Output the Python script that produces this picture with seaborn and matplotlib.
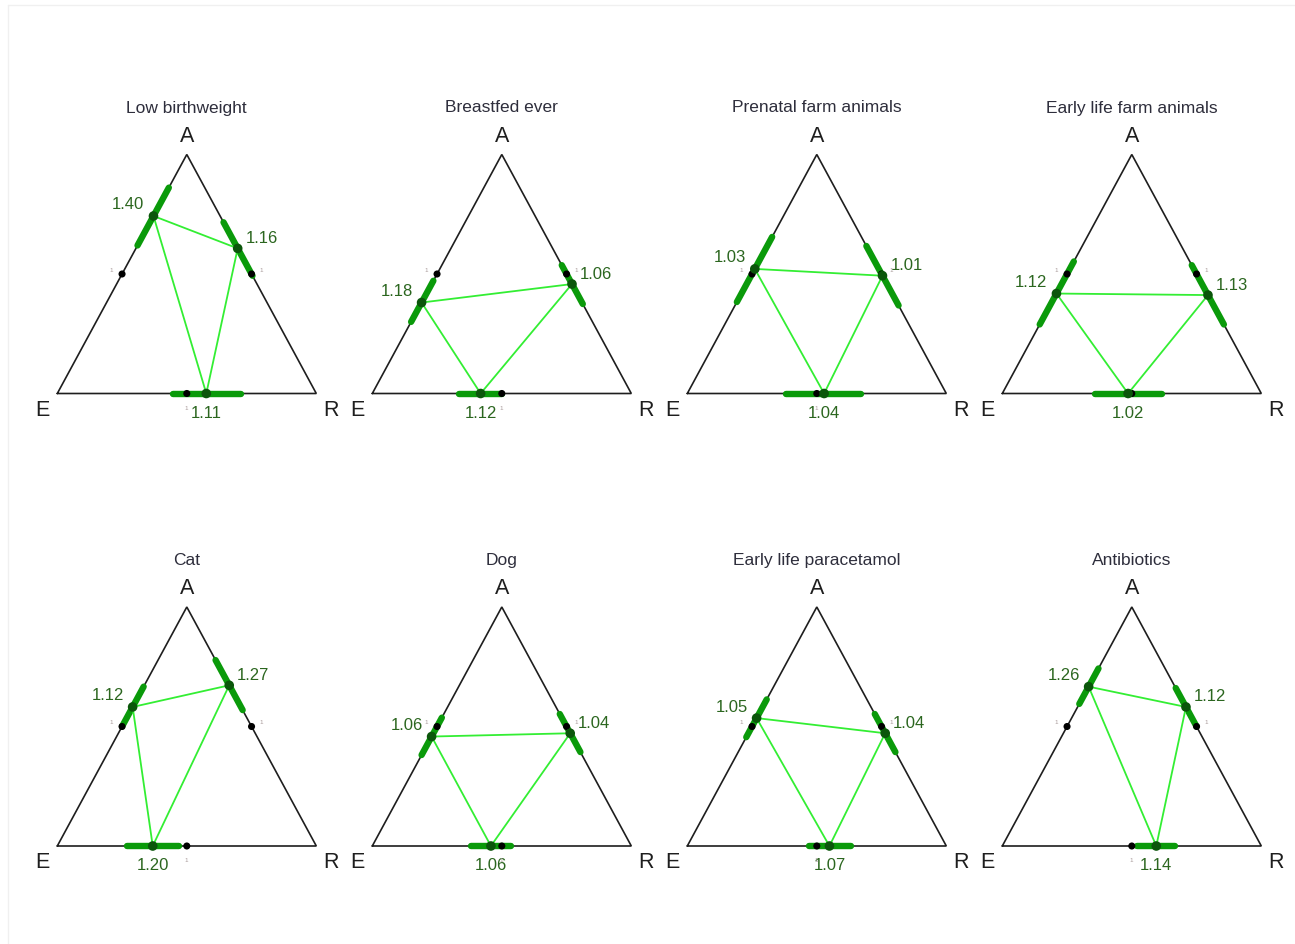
import numpy as np
import matplotlib
matplotlib.use("Agg")
import matplotlib.pyplot as plt
from matplotlib.lines import Line2D
import seaborn as sns

# ---- data -------------------------------------------------------------
titles = ["Low birthweight", "Breastfed ever", "Prenatal farm animals",
          "Early life farm animals", "Cat", "Dog",
          "Early life paracetamol", "Antibiotics"]

# Left edge (E - A): ratio estimate, vertex it leans towards, 95% CI
ea_est = [1.40, 1.18, 1.03, 1.12, 1.12, 1.06, 1.05, 1.26]
ea_dir = ["A", "E", "A", "E", "A", "E", "A", "A"]
ea_lo = [1.18, 1.04, 0.85, 0.93, 1.00, 0.95, 0.94, 1.14]
ea_hi = [1.65, 1.32, 1.24, 1.34, 1.26, 1.18, 1.17, 1.40]

# Right edge (R - A)
ar_est = [1.16, 1.06, 1.01, 1.13, 1.27, 1.04, 1.04, 1.12]
ar_dir = ["A", "R", "R", "R", "A", "R", "R", "A"]
ar_lo = [0.99, 0.95, 0.85, 0.95, 1.10, 0.93, 0.93, 1.00]
ar_hi = [1.35, 1.19, 1.20, 1.34, 1.47, 1.16, 1.16, 1.25]

# Bottom edge (E - R)
er_est = [1.11, 1.12, 1.04, 1.02, 1.20, 1.06, 1.07, 1.14]
er_dir = ["R", "E", "R", "E", "E", "E", "R", "R"]
er_lo = [0.93, 1.00, 0.85, 0.85, 1.04, 0.95, 0.96, 1.03]
er_hi = [1.34, 1.26, 1.27, 1.22, 1.38, 1.18, 1.20, 1.26]

# ---- styling ----------------------------------------------------------
sns.set_theme(style="white")
plt.rcParams["font.family"] = ["Liberation Sans", "DejaVu Sans"]

EDGE_COL = "#1e1e1e"
CI_COL = "#0a9a0a"
EST_COL = "#0b560b"
LINK_COL = "#33ee33"
LABEL_COL = "#2b661f"
TITLE_COL = "#2e2e3c"
REF_COL = "#a89a9a"

W, H = 259.0, 239.0          # triangle base and height (axis units = pixels)
LOG_SPAN = np.log(4.0)       # an edge spans ratios 0.5 .. 2 on a log scale

FIG_W, FIG_H = 1295, 944
fig = plt.figure(figsize=(FIG_W / 100, FIG_H / 100), dpi=100)

# faint outer frame
fig.add_artist(Line2D([8 / FIG_W, 8 / FIG_W], [0, 1 - 5 / FIG_H],
                      transform=fig.transFigure, color="#f0f0f0", lw=1))
fig.add_artist(Line2D([8 / FIG_W, 1], [1 - 5 / FIG_H, 1 - 5 / FIG_H],
                      transform=fig.transFigure, color="#f0f0f0", lw=1))

V = {"E": np.array([0.0, 0.0]), "R": np.array([W, 0.0]), "A": np.array([W / 2, H])}
# each edge: start vertex, end vertex (positive direction points to the end)
EDGES = {"EA": ("E", "A"), "AR": ("R", "A"), "ER": ("E", "R")}


def edge_point(edge, ratio, toward):
    p0, p1 = EDGES[edge]
    sign = 1.0 if toward == p1 else -1.0
    t = 0.5 + sign * np.log(ratio) / LOG_SPAN
    return V[p0] + t * (V[p1] - V[p0])


X0, XSPAN = -45, 350
Y0, YSPAN = -40, 350

for i, title in enumerate(titles):
    r, c = divmod(i, 4)
    ex = 57.3 + 315 * c
    by = 393.5 + 452.5 * r
    left = (ex + X0) / FIG_W
    bottom = (FIG_H - (by - Y0)) / FIG_H
    ax = fig.add_axes([left, bottom, XSPAN / FIG_W, YSPAN / FIG_H])
    ax.set_xlim(X0, X0 + XSPAN)
    ax.set_ylim(Y0, Y0 + YSPAN)
    ax.set_facecolor("none")
    ax.set_axis_off()

    # triangle outline
    tri = np.array([V["E"], V["R"], V["A"], V["E"]])
    ax.plot(tri[:, 0], tri[:, 1], color=EDGE_COL, lw=1.2, zorder=1,
            solid_joinstyle="miter")

    edge_data = {
        "EA": (ea_est[i], ea_dir[i], ea_lo[i], ea_hi[i]),
        "AR": (ar_est[i], ar_dir[i], ar_lo[i], ar_hi[i]),
        "ER": (er_est[i], er_dir[i], er_lo[i], er_hi[i]),
    }

    est_pts = {}
    ref_pts = []
    for edge, (est, tw, lo, hi) in edge_data.items():
        a = edge_point(edge, lo, tw)
        b = edge_point(edge, hi, tw)
        ax.plot([a[0], b[0]], [a[1], b[1]], color=CI_COL, lw=4.6,
                solid_capstyle="round", zorder=2)
        est_pts[edge] = edge_point(edge, est, tw)
        ref = edge_point(edge, 1.0, tw)
        ref_pts.append(ref)

        # value label and reference "1" marker label
        p = est_pts[edge]
        if edge == "EA":
            ax.text(p[0] - 9, p[1] + 11, f"{est:.2f}", ha="right", va="center",
                    fontsize=12, color=LABEL_COL, zorder=6)
            ax.text(ref[0] - 11, ref[1] + 4, "1", ha="center", va="center",
                    fontsize=4.5, color=REF_COL, zorder=6)
        elif edge == "AR":
            ax.text(p[0] + 8, p[1] + 10, f"{est:.2f}", ha="left", va="center",
                    fontsize=12, color=LABEL_COL, zorder=6)
            ax.text(ref[0] + 10, ref[1] + 4, "1", ha="center", va="center",
                    fontsize=4.5, color=REF_COL, zorder=6)
        else:
            ax.text(p[0], p[1] - 20, f"{est:.2f}", ha="center", va="center",
                    fontsize=12, color=LABEL_COL, zorder=6)
            ax.text(ref[0] - 1, ref[1] - 15, "1", ha="center", va="center",
                    fontsize=4.5, color=REF_COL, zorder=6)

    ref_pts = np.array(ref_pts)
    sns.scatterplot(x=ref_pts[:, 0], y=ref_pts[:, 1], ax=ax, s=26,
                    color="black", edgecolor="none", zorder=3, legend=False)

    loop = np.array([est_pts["EA"], est_pts["AR"], est_pts["ER"], est_pts["EA"]])
    ax.plot(loop[:, 0], loop[:, 1], color=LINK_COL, lw=1.3, zorder=4)
    sns.scatterplot(x=loop[:3, 0], y=loop[:3, 1], ax=ax, s=48,
                    color=EST_COL, edgecolor="none", zorder=5, legend=False)

    # vertex letters and panel title
    ax.text(W / 2, H + 18, "A", ha="center", va="center", fontsize=15.5,
            color="#1e1e1e")
    ax.text(-15, -16.5, "E", ha="center", va="center", fontsize=15.5,
            color="#1e1e1e")
    ax.text(W + 14.5, -16.5, "R", ha="center", va="center", fontsize=15.5,
            color="#1e1e1e")
    ax.text(W / 2, 285.5, title, ha="center", va="center", fontsize=12.5,
            color=TITLE_COL)

fig.savefig("out.png", dpi=100, facecolor="white")
